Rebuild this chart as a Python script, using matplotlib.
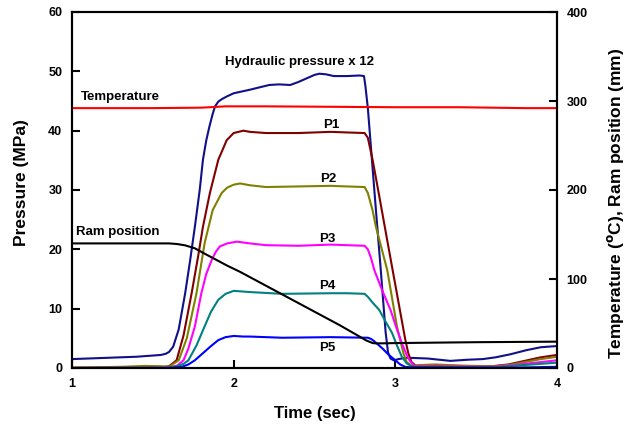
import matplotlib
matplotlib.use("Agg")
import matplotlib.pyplot as plt

plt.rcParams['font.family'] = ['Liberation Sans', 'DejaVu Sans']
plt.rcParams['font.weight'] = 'bold'
plt.rcParams['mathtext.default'] = 'bf'

# --- datos ---
# presion hidraulica (x12), MPa
t_hyd = [1.0, 1.2, 1.4, 1.5, 1.55, 1.58, 1.6, 1.626, 1.66, 1.70, 1.73, 1.76, 1.79,
         1.81, 1.83, 1.85, 1.87, 1.885, 1.905, 1.926, 1.96, 2.0, 2.05, 2.10, 2.16,
         2.22, 2.28, 2.35, 2.40, 2.45, 2.50, 2.53, 2.57, 2.62, 2.7, 2.78, 2.806,
         2.815, 2.83, 2.87, 2.91, 2.94, 2.955, 2.97, 2.99, 3.02, 3.06, 3.1, 3.2,
         3.34, 3.45, 3.54, 3.62, 3.71, 3.81, 3.9, 4.0]
p_hyd = [1.5, 1.7, 1.9, 2.1, 2.2, 2.4, 2.7, 3.6, 6.5, 12.6, 18.0, 23.8, 30.0,
         35.1, 38.3, 40.7, 42.8, 44.1, 44.9, 45.3, 45.8, 46.3, 46.6, 46.9, 47.3,
         47.7, 47.8, 47.7, 48.2, 48.8, 49.4, 49.6, 49.5, 49.2, 49.2, 49.3, 49.2,
         47.5, 43.8, 30.0, 16.5, 6.0, 2.6, 1.6, 1.3, 1.5, 1.7, 1.7, 1.6,
         1.2, 1.4, 1.5, 1.8, 2.3, 3.0, 3.5, 3.7]

# temperatura, grados C (eje derecho)
t_temp = [1.0, 1.5, 1.8, 1.95, 2.2, 2.6, 3.0, 3.4, 3.8, 4.0]
v_temp = [292, 292, 292.5, 294, 294, 293.5, 293, 293, 292, 292]

# sensores P1..P5, MPa
t_p1 = [1.0, 1.3, 1.45, 1.55, 1.6, 1.647, 1.69, 1.74, 1.78, 1.81, 1.853, 1.905, 1.957,
        2.0, 2.06, 2.1, 2.2, 2.4, 2.6, 2.7, 2.81, 2.83, 2.86, 2.905, 2.95, 2.99,
        3.03, 3.06, 3.08, 3.1, 3.13, 3.3, 3.5, 3.6, 3.7, 3.8, 3.9, 4.0]
p_p1 = [0.05, 0.1, 0.15, 0.1, 0.3, 1.3, 5.5, 12.6, 18.8, 23.8, 29.5, 35.1, 38.4,
        39.6, 40.0, 39.8, 39.6, 39.6, 39.8, 39.7, 39.6, 38.8, 35.0, 28.3, 21.5, 15.5,
        9.5, 5.0, 2.5, 1.0, 0.3, 0.4, 0.3, 0.3, 0.6, 1.2, 1.8, 2.2]

t_p2 = [1.0, 1.3, 1.45, 1.55, 1.6, 1.66, 1.71, 1.77, 1.82, 1.87, 1.926, 1.96, 2.0,
        2.04, 2.10, 2.2, 2.4, 2.6, 2.7, 2.81, 2.83, 2.86, 2.88, 2.95, 3.01, 3.05,
        3.07, 3.1, 3.15, 3.25, 3.4, 3.6, 3.7, 3.8, 3.9, 4.0]
p_p2 = [0.05, 0.2, 0.35, 0.3, 0.2, 1.3, 5.0, 12.6, 21.0, 26.6, 29.5, 30.4, 30.9,
        31.1, 30.8, 30.5, 30.6, 30.7, 30.6, 30.5, 29.5, 26.5, 23.8, 16.5, 7.0, 2.5,
        1.0, 0.4, 0.5, 0.6, 0.4, 0.3, 0.5, 1.0, 1.5, 1.9]

t_p3 = [1.0, 1.5, 1.6, 1.65, 1.69, 1.72, 1.76, 1.80, 1.83, 1.864, 1.89, 1.915, 1.96,
        2.02, 2.10, 2.2, 2.4, 2.6, 2.7, 2.81, 2.83, 2.85, 2.87, 2.92, 2.97, 3.01,
        3.04, 3.07, 3.09, 3.12, 3.6, 3.7, 3.8, 3.9, 4.0]
p_p3 = [0.0, 0.05, 0.1, 0.4, 1.3, 3.3, 7.0, 12.6, 15.8, 18.2, 19.6, 20.5, 21.0,
        21.3, 21.0, 20.7, 20.6, 20.8, 20.7, 20.6, 20.0, 18.5, 16.5, 13.0, 9.8, 6.5,
        4.2, 2.2, 1.2, 0.3, 0.2, 0.4, 0.7, 1.0, 1.3]

t_p4 = [1.0, 1.6, 1.65, 1.69, 1.72, 1.77, 1.82, 1.86, 1.905, 1.95, 2.0, 2.05, 2.10,
        2.3, 2.6, 2.7, 2.81, 2.83, 2.86, 2.9, 2.94, 2.98, 3.01, 3.04, 3.07, 3.1,
        3.13, 3.6, 3.7, 3.8, 3.9, 4.0]
p_p4 = [0.0, 0.05, 0.3, 0.7, 1.3, 3.8, 7.0, 9.5, 11.5, 12.5, 13.0, 12.9, 12.8,
        12.5, 12.6, 12.6, 12.5, 12.0, 11.0, 9.8, 7.8, 5.9, 3.8, 1.9, 0.8, 0.3,
        0.15, 0.1, 0.3, 0.5, 0.7, 0.9]

t_p5 = [1.0, 1.6, 1.65, 1.68, 1.72, 1.76, 1.81, 1.86, 1.905, 1.95, 2.0, 2.06, 2.1,
        2.3, 2.6, 2.83, 2.85, 2.87, 2.92, 2.96, 3.0, 3.03, 3.06, 3.1, 3.7, 3.8, 3.9, 4.0]
p_p5 = [0.0, 0.02, 0.1, 0.2, 0.6, 1.3, 2.5, 3.7, 4.7, 5.2, 5.4, 5.3, 5.3,
        5.1, 5.2, 5.1, 4.9, 4.5, 3.3, 2.2, 1.3, 0.6, 0.2, 0.1, 0.05, 0.1, 0.15, 0.2]

# posicion del piston, mm (eje derecho)
t_ram = [1.0, 1.5, 1.6, 1.65, 1.70, 1.76, 1.82, 1.895, 1.96, 2.04, 2.657, 2.82,
         2.86, 2.88, 2.92, 3.0, 3.5, 4.0]
v_ram = [140, 140, 140, 139.3, 137.8, 134.5, 128.5, 121.3, 115, 108, 48, 31,
         28, 27.7, 27.7, 28, 29, 29.6]

fig = plt.figure(figsize=(6.27, 4.25), dpi=100)
ax = fig.add_axes([72/627, 1 - 368/425, (557 - 72)/627, (368 - 12)/425])
ax2 = ax.twinx()

lw = 1.5
ax.plot(t_hyd, p_hyd, color='#10108a', lw=lw)
ax.plot(t_p1, p_p1, color='#800000', lw=lw)
ax.plot(t_p2, p_p2, color='#808000', lw=lw)
ax.plot(t_p3, p_p3, color='#ff00ff', lw=lw)
ax.plot(t_p4, p_p4, color='#008080', lw=lw)
ax.plot(t_p5, p_p5, color='#0000ff', lw=lw)
ax2.plot(t_temp, v_temp, color='#ff0000', lw=lw)
ax2.plot(t_ram, v_ram, color='black', lw=lw)

ax.set_xlim(1, 4)
ax.set_ylim(0, 60)
ax2.set_ylim(0, 400)
ax.set_xticks([1, 2, 3, 4])
ax.set_yticks(range(0, 61, 10))
ax2.set_yticks(range(0, 401, 100))

for a in (ax, ax2):
    for s in a.spines.values():
        s.set_linewidth(1.5)
    a.tick_params(direction='in', length=6, width=1.5, labelsize=9)
ax.tick_params(axis='y', pad=7)
ax.tick_params(axis='x', pad=7)
ax2.tick_params(axis='y', pad=7)

ax.set_xlabel('Time (sec)', fontsize=12, fontweight='bold', labelpad=12)
ax.set_ylabel('Pressure (MPa)', fontsize=12.5, fontweight='bold')
ax.yaxis.set_label_coords(-0.088, 0.521)
ax2.set_ylabel(r'Temperature ($^{o}$C), Ram position (mm)', fontsize=12.5,
               fontweight='bold', rotation=90)
ax2.yaxis.set_label_coords(1.099, 0.463)

fs = 9.5
ax.text(2.41, 51.6, 'Hydraulic pressure x 12', fontsize=fs, fontweight='bold', ha='center', va='center')
ax.text(1.054, 45.7, 'Temperature', fontsize=fs, fontweight='bold', ha='left', va='center')
ax.text(1.025, 22.9, 'Ram position', fontsize=fs, fontweight='bold', ha='left', va='center')
ax.text(2.606, 41.0, 'P1', fontsize=fs, fontweight='bold', ha='center', va='center')
ax.text(2.585, 31.9, 'P2', fontsize=fs, fontweight='bold', ha='center', va='center')
ax.text(2.58, 21.75, 'P3', fontsize=fs, fontweight='bold', ha='center', va='center')
ax.text(2.58, 13.8, 'P4', fontsize=fs, fontweight='bold', ha='center', va='center')
ax.text(2.58, 3.3, 'P5', fontsize=fs, fontweight='bold', ha='center', va='center')

fig.savefig('out.png', dpi=100)
